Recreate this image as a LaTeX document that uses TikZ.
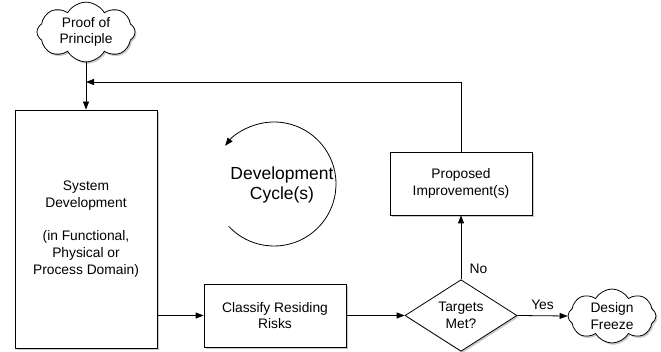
\documentclass[tikz,border=0pt]{standalone}
\usepackage{fontspec}
\setmainfont{Liberation Sans}
\usetikzlibrary{shapes.geometric,shapes.symbols,shadows,arrows.meta}
\begin{document}
\begin{tikzpicture}[x=1pt,y=-1pt,
  line width=0.8pt,
  shade/.style={drop shadow={shadow xshift=1.5pt,shadow yshift=-1.8pt,opacity=0.35,fill=black!60}},
  txt/.style={font=\fontsize{13.8}{16.7}\selectfont},
  box/.style={draw,fill=white,rectangle,align=center,txt,shade},
  cloudbox/.style={draw,fill=white,cloud,cloud puffs=8,cloud puff arc=120,aspect=1.6,inner sep=0pt,align=center,txt,shade},
  decision/.style={draw,fill=white,diamond,inner sep=0pt,align=center,txt,shade},
  arr/.style={-{Triangle[length=8pt,width=6pt]}}]
\useasboundingbox (0,0) rectangle (661,352);
\node[cloudbox,minimum width=98pt,minimum height=58pt] (ppc) at (86,32) {Proof of\\Principle};
\node[box,minimum width=142pt,minimum height=238pt] (sys) at (86,229) {System\\Development\\[16.7pt](in Functional,\\Physical or\\Process Domain)};
\node[box,minimum width=142pt,minimum height=63pt] (cls) at (275,315.5) {Classify Residing\\Risks};
\node[decision,minimum width=112pt,minimum height=64pt] (dia) at (461,315.5) {Targets\\Met?};
\node[box,minimum width=142pt,minimum height=63pt] (imp) at (461,183.5) {Proposed\\Improvement(s)};
\node[cloudbox,minimum width=88pt,minimum height=54pt] (df) at (612,316) {Design\\Freeze};
\coordinate (fb) at (86,82);
\node[align=center,font=\fontsize{17.5}{20.5}\selectfont] (cyc) at (282,185) {Development\\Cycle(s)};
\coordinate (cc) at (274,184);
\draw[arr] ([shift={(-137:62pt)}]cc) arc[start angle=-137,end angle=142,radius=62pt];
\draw[arr] (ppc.south) -- (sys.north);
\draw[arr] (imp.north) |- (fb);
\draw[arr] (sys.east |- cls.west) -- (cls.west);
\draw[arr] (cls.east) -- (dia.west);
\draw[arr] (dia.north) -- node[txt,right,pos=0.16,xshift=5pt] (no) {No} (imp.south);
\draw[arr] (dia.east) -- node[txt,above,yshift=2pt] (yes) {Yes} (df.west);
\end{tikzpicture}
\end{document}
